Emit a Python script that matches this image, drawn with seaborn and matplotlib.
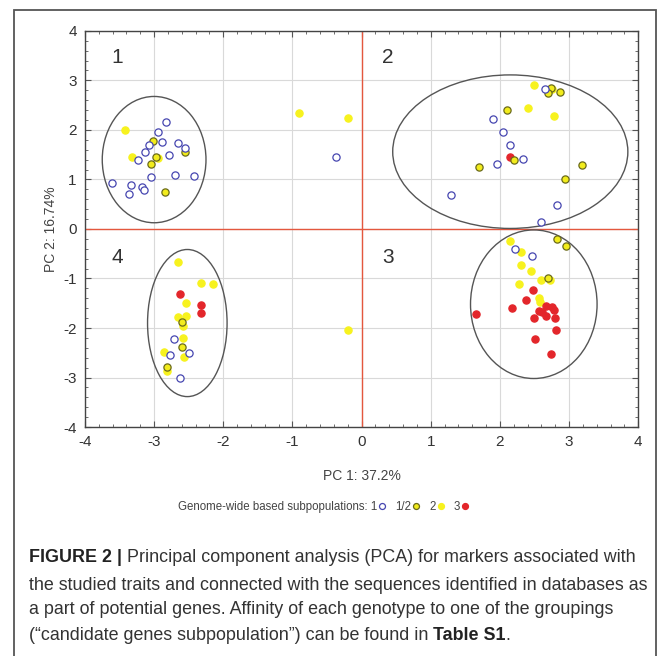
import pandas as pd
import seaborn as sns
import matplotlib.pyplot as plt
from matplotlib.patches import Ellipse, Rectangle
from matplotlib.lines import Line2D
from matplotlib.ticker import MultipleLocator


# genotype scores
g1_x = [-2.83, -2.94, -2.88, -3.08, -2.65, -2.56, -3.13, -2.79, -3.23, -3.04, -2.70, -2.43,
        -3.61, -3.34, -3.18, -3.15, -3.36, -0.37, 2.65, 1.90, 2.04, 2.14, 2.33, 1.96, 1.30,
        2.82, 2.60, 2.22, 2.46, -2.71, -2.50, -2.77, -2.62]
g1_y = [2.15, 1.95, 1.76, 1.70, 1.74, 1.64, 1.55, 1.49, 1.39, 1.04, 1.09, 1.07,
        0.92, 0.88, 0.85, 0.79, 0.70, 1.46, 2.83, 2.22, 1.96, 1.69, 1.41, 1.31, 0.69,
        0.48, 0.14, -0.41, -0.54, -2.22, -2.50, -2.55, -3.00]

g12_x = [-3.02, -2.56, -2.98, -3.05, -2.84, 2.74, 2.69, 2.87, 2.10, 2.21, 1.70, 3.19, 2.94,
         2.83, 2.95, 2.70, -2.60, -2.60, -2.82]
g12_y = [1.77, 1.56, 1.45, 1.31, 0.75, 2.84, 2.74, 2.77, 2.40, 1.39, 1.25, 1.29, 1.00,
         -0.21, -0.34, -1.00, -1.87, -2.38, -2.78]

g2_x = [-3.42, -3.32, -2.95, -0.90, -0.20, -0.20, 2.49, 2.41, 2.78, 2.76, 2.14, 2.30, 2.31,
        2.45, 2.59, 2.73, 2.28, 2.57, 2.58, -2.66, -2.32, -2.15, -2.54, -2.66, -2.54, -2.58,
        -2.58, -2.86, -2.57, -2.82]
g2_y = [1.99, 1.45, 1.44, 2.35, 2.25, -2.05, 2.90, 2.44, 2.28, 2.82, -0.24, -0.47, -0.73,
        -0.85, -1.04, -1.04, -1.12, -1.40, -1.47, -0.66, -1.10, -1.11, -1.50, -1.77, -1.76,
        -1.96, -2.21, -2.49, -2.59, -2.86]

g3_x = [2.14, 2.48, 2.38, 2.18, 2.66, 2.76, 2.78, 2.56, 2.61, 1.65, 2.66, 2.49, 2.80, 2.81,
        2.51, 2.74, -2.62, -2.32, -2.32]
g3_y = [1.45, -1.23, -1.44, -1.59, -1.55, -1.57, -1.63, -1.66, -1.68, -1.72, -1.76, -1.80,
        -1.80, -2.04, -2.22, -2.53, -1.32, -1.54, -1.70]

# cluster ellipses: centre x, centre y, width, height
ell_cx = [-3.0, 2.15, 2.49, -2.52]
ell_cy = [1.40, 1.56, -1.52, -1.90]
ell_w = [1.50, 3.40, 1.83, 1.15]
ell_h = [2.55, 3.10, 3.00, 2.97]

quadrants = ["1", "2", "3", "4"]
quad_x = [-3.62, 0.30, 0.30, -3.62]
quad_y = [3.47, 3.47, -0.57, -0.57]

groups = ["1", "1/2", "2", "3"]

df = pd.concat([
    pd.DataFrame({"PC1": g1_x, "PC2": g1_y, "group": "1"}),
    pd.DataFrame({"PC1": g12_x, "PC2": g12_y, "group": "1/2"}),
    pd.DataFrame({"PC1": g2_x, "PC2": g2_y, "group": "2"}),
    pd.DataFrame({"PC1": g3_x, "PC2": g3_y, "group": "3"}),
])

sns.set_style("white")
plt.rcParams["font.family"] = ["Liberation Sans", "DejaVu Sans"]
plt.rcParams["axes.unicode_minus"] = False

face = {"1": "white", "1/2": "#f2ec1c", "2": "#f7f21e", "3": "#e3262b"}
edge = {"1": "#4646b0", "1/2": "#6a6a1a", "2": "#f7f21e", "3": "#e3262b"}
draw_order = ["2", "3", "1/2", "1"]

fig = plt.figure(figsize=(6.69, 6.56), dpi=100)
ax = fig.add_axes([0.127, 0.349, 0.827, 0.604])

ax.set_xlim(-4, 4)
ax.set_ylim(-4, 4)
ax.xaxis.set_major_locator(MultipleLocator(1))
ax.yaxis.set_major_locator(MultipleLocator(1))
ax.xaxis.set_minor_locator(MultipleLocator(0.2))
ax.yaxis.set_minor_locator(MultipleLocator(0.2))
ax.grid(True, which="major", color="#d9d9d9", lw=0.8)
ax.set_axisbelow(True)
ax.axhline(0, color="#e4573e", lw=1, zorder=1)
ax.axvline(0, color="#e4573e", lw=1, zorder=1)

for cx, cy, w, h in zip(ell_cx, ell_cy, ell_w, ell_h):
    ax.add_patch(Ellipse((cx, cy), w, h, fill=False, ec="#555555", lw=1, zorder=2))

for g in draw_order:
    sns.scatterplot(data=df[df["group"] == g], x="PC1", y="PC2", ax=ax,
                    color=face[g], edgecolor=edge[g], linewidth=0.9, s=27,
                    zorder=3, legend=False)

for q, qx, qy in zip(quadrants, quad_x, quad_y):
    ax.text(qx, qy, q, fontsize=15, color="#333333", ha="left", va="center")

for s in ax.spines.values():
    s.set_color("#444444")
    s.set_linewidth(1)
ax.tick_params(which="both", direction="in", top=True, right=True, bottom=True, left=True,
               color="#555555")
ax.tick_params(which="major", length=4, labelsize=11, labelcolor="#333333", pad=6)
ax.tick_params(which="minor", length=2.5)
ax.set_xlabel("PC 1: 37.2%", fontsize=10, color="#444444", labelpad=14)
ax.set_ylabel("PC 2: 16.74%", fontsize=10, color="#444444", labelpad=4)

handles = []
labels = []
for g in groups:
    handles.append(Line2D([], [], ls="none", marker="o", ms=4.3, mfc=face[g],
                          mec=edge[g], mew=0.9))
    labels.append(("Genome-wide based subpopulations: " if g == "1" else "") + g)
fig.legend(handles, labels, loc="center", bbox_to_anchor=(0.483, 0.227), ncol=4,
           frameon=False, markerfirst=False, handlelength=0.6, handletextpad=0.15,
           columnspacing=0.8, prop={"size": 8.3}, labelcolor="#444444")

# outer frame
fig.add_artist(Rectangle((0.021, -0.05), 0.96, 1.035, transform=fig.transFigure,
                         fill=False, ec="#555555", lw=1.3))

# caption
cap_size = 12.9
cap_col = "#333333"
t1 = fig.text(0.043, 1 - 558 / 656, "FIGURE 2 |", fontsize=cap_size, weight="bold",
              color="#222222", va="center")
ax.annotate(" Principal component analysis (PCA) for markers associated with",
            xy=(1, 0.5), xycoords=t1, va="center", ha="left", fontsize=cap_size,
            color=cap_col, annotation_clip=False)
fig.text(0.043, 1 - 585 / 656, "the studied traits and connected with the sequences identified in databases as",
         fontsize=cap_size, color=cap_col, va="center")
fig.text(0.043, 1 - 610 / 656, "a part of potential genes. Affinity of each genotype to one of the groupings",
         fontsize=cap_size, color=cap_col, va="center")
t4 = fig.text(0.043, 1 - 635 / 656, "(\u201ccandidate genes subpopulation\u201d) can be found in ",
              fontsize=cap_size, color=cap_col, va="center")
t5 = ax.annotate("Table S1", xy=(1, 0.5), xycoords=t4, va="center", ha="left",
                 fontsize=cap_size, weight="bold", color="#222222", annotation_clip=False)
ax.annotate(".", xy=(1, 0.5), xycoords=t5, va="center", ha="left",
            fontsize=cap_size, color=cap_col, annotation_clip=False)

fig.savefig("out.png", dpi=100)
